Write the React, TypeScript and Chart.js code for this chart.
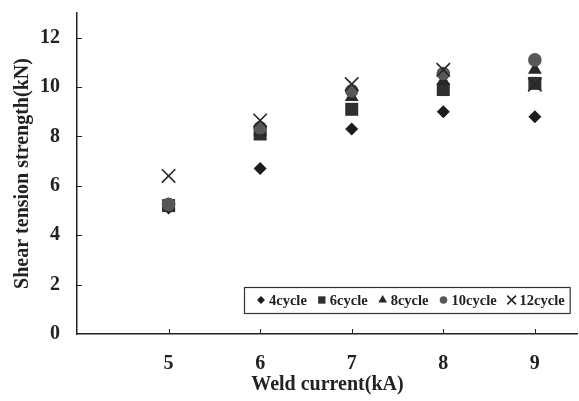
import { useEffect, useRef } from 'react';
import { Chart, registerables } from 'chart.js';
import { drawPoint } from 'chart.js/helpers';

Chart.register(...registerables);

const currents = [5, 6, 7, 8, 9];
const cycle4 = [5.1, 6.7, 8.3, 9.0, 8.8];
const cycle6 = [5.2, 8.1, 9.1, 9.9, 10.15];
const cycle8 = [5.2, 8.2, 9.6, 10.25, 10.7];
const cycle10 = [5.25, 8.35, 9.85, 10.55, 11.1];
const cycle12 = [6.4, 8.65, 10.12, 10.7, 10.1];
const seriesLabels = ['4cycle', '6cycle', '8cycle', '10cycle', '12cycle'];
const xTicks = [5, 6, 7, 8, 9];
const yTicks = [0, 2, 4, 6, 8, 10, 12];

const FONT = '"Liberation Serif", "Times New Roman", serif';
const TEXT = '#222222';

const styles = [
  { pointStyle: 'rectRot', color: '#1c1c1c', radius: 6.5, borderWidth: 0, legendRadius: 4 },
  { pointStyle: 'rect', color: '#2f2f2f', radius: 9.2, borderWidth: 0, legendRadius: 5.2 },
  { pointStyle: 'triangle', color: '#262626', radius: 8, borderWidth: 0, legendRadius: 5 },
  { pointStyle: 'circle', color: '#575757', radius: 6.8, borderWidth: 0, legendRadius: 3.8 },
  { pointStyle: 'crossRot', color: '#262626', radius: 9.5, borderWidth: 1.6, legendRadius: 6.2 },
];

const seriesValues = [cycle4, cycle6, cycle8, cycle10, cycle12];

const inwardTicks = {
  id: 'inwardTicks',
  beforeDatasetsDraw(chart: any) {
    const { ctx, chartArea, scales } = chart;
    ctx.save();
    ctx.strokeStyle = TEXT;
    ctx.lineWidth = 1;
    ctx.beginPath();
    yTicks.forEach((v) => {
      if (v === 0) return;
      const y = Math.round(scales.y.getPixelForValue(v)) + 0.5;
      ctx.moveTo(chartArea.left, y);
      ctx.lineTo(chartArea.left + 5, y);
    });
    xTicks.forEach((v) => {
      const x = Math.round(scales.x.getPixelForValue(v)) + 0.5;
      ctx.moveTo(x, chartArea.bottom);
      ctx.lineTo(x, chartArea.bottom - 5);
    });
    ctx.stroke();
    ctx.restore();
  },
};

const boxLegend = {
  id: 'boxLegend',
  afterDatasetsDraw(chart: any) {
    const { ctx, chartArea } = chart;
    ctx.save();
    ctx.font = `bold 14.5px ${FONT}`;
    const widths = chart.data.datasets.map((d: any) => ctx.measureText(d.label).width);
    const total = 17 + widths.reduce((a: number, w: number) => a + 8 + w, 0) + 15 * (widths.length - 1) + 5;
    const right = chartArea.right - 8;
    const bottom = chartArea.bottom - 21;
    const h = 26;
    const left = Math.round(right - total);
    const top = Math.round(bottom - h);
    ctx.fillStyle = '#ffffff';
    ctx.fillRect(left, top, total, h);
    ctx.strokeStyle = '#333333';
    ctx.lineWidth = 1.2;
    ctx.strokeRect(left + 0.5, top + 0.5, total, h);
    const cy = top + h / 2;
    let x = left + 17;
    chart.data.datasets.forEach((d: any, i: number) => {
      const st = styles[i];
      ctx.fillStyle = st.color;
      ctx.strokeStyle = st.color;
      ctx.lineWidth = st.borderWidth || 1;
      drawPoint(ctx, { pointStyle: st.pointStyle, radius: st.legendRadius, rotation: 0, borderWidth: st.borderWidth || 0 } as any, x, cy);
      ctx.fillStyle = TEXT;
      ctx.textBaseline = 'middle';
      ctx.textAlign = 'left';
      ctx.fillText(d.label, x + 8, cy + 1);
      x = x + 8 + widths[i] + 15;
    });
    ctx.restore();
  },
};

export default function App() {
  const ref = useRef<HTMLCanvasElement | null>(null);
  useEffect(() => {
    if (!ref.current) return;
    const datasets = seriesLabels.map((label, i) => ({
      label,
      data: currents.map((c, j) => ({ x: c, y: seriesValues[i][j] })),
      pointStyle: styles[i].pointStyle as any,
      pointRadius: styles[i].radius,
      pointHoverRadius: styles[i].radius,
      backgroundColor: styles[i].color,
      borderColor: styles[i].color,
      pointBorderWidth: styles[i].borderWidth,
      borderWidth: styles[i].borderWidth,
      order: seriesLabels.length - i,
    }));
    const chart = new Chart(ref.current, {
      type: 'scatter',
      data: { datasets },
      plugins: [inwardTicks, boxLegend],
      options: {
        animation: false,
        responsive: false,
        devicePixelRatio: 1,
        layout: { padding: { left: 0, right: 1, top: 13, bottom: 0 } },
        plugins: { legend: { display: false }, tooltip: { enabled: false } },
        scales: {
          x: {
            type: 'linear',
            min: 4,
            max: 9.47,
            afterBuildTicks: (s: any) => {
              s.ticks = xTicks.map((v) => ({ value: v }));
            },
            afterFit: (s: any) => {
              s.height = 67;
              s.paddingLeft = 0;
              s.paddingRight = 0;
            },
            grid: { display: false, drawTicks: false },
            border: { display: true, color: TEXT, width: 1.5 },
            ticks: {
              color: TEXT,
              font: { family: FONT, size: 20, weight: 'bold' },
              padding: 18,
              maxRotation: 0,
            },
            title: {
              display: true,
              text: 'Weld current(kA)',
              color: TEXT,
              font: { family: FONT, size: 20, weight: 'bold' },
              padding: { top: 0, bottom: 4 },
            },
          },
          y: {
            type: 'linear',
            min: 0,
            max: 13,
            afterBuildTicks: (s: any) => {
              s.ticks = yTicks.map((v) => ({ value: v }));
            },
            afterFit: (s: any) => {
              s.width = 77;
              s.paddingTop = 0;
              s.paddingBottom = 0;
            },
            grid: { display: false, drawTicks: false },
            border: { display: true, color: TEXT, width: 1.5 },
            ticks: {
              color: TEXT,
              font: { family: FONT, size: 20, weight: 'bold' },
              padding: 17,
            },
            title: {
              display: true,
              text: 'Shear tension strength(kN)',
              color: TEXT,
              font: { family: FONT, size: 20, weight: 'bold' },
              padding: { top: 11, bottom: 0 },
            },
          },
        },
      },
    });
    return () => chart.destroy();
  }, []);
  return (
    <div style={{ position: 'fixed', left: 0, top: 0, width: 579, height: 401, background: '#fff', overflow: 'hidden' }}>
      <canvas ref={ref} width={589} height={401} style={{ width: 589, height: 401, display: 'block' }} />
    </div>
  );
}
